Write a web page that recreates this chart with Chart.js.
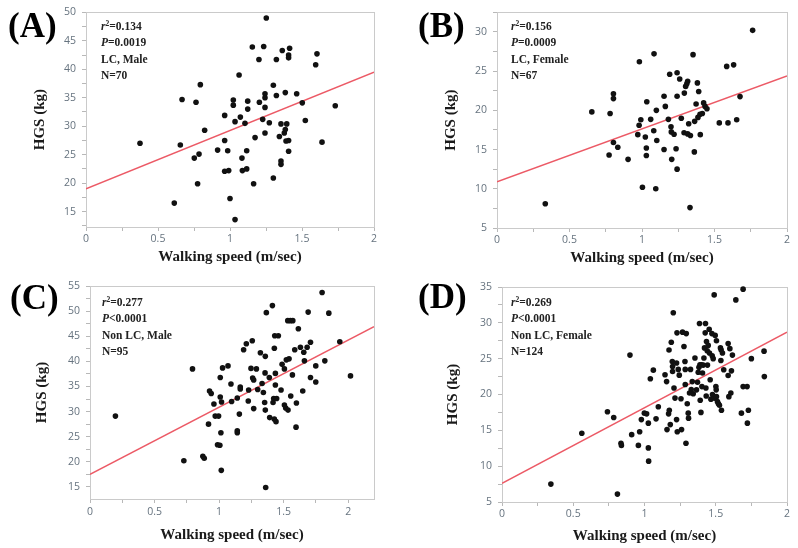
<!DOCTYPE html>
<html>
<head>
<meta charset="utf-8">
<script src="https://cdn.jsdelivr.net/npm/chart.js@4.4.1/dist/chart.umd.min.js"></script>
<style>
    body { margin: 0; background: #fff; }
    #wrap { position: relative; width: 798px; height: 548px; overflow: hidden; }
    .panel { position: absolute; }
    .lbl { position: absolute; font: bold 35px "Liberation Serif", serif; color: #000; line-height: 35px; white-space: nowrap; }
    .note { position: absolute; font: bold 11.5px "Liberation Serif", serif; line-height: 16.3px; color: #222; white-space: nowrap; }
    .note sup { font-size: 7.5px; line-height: 0; vertical-align: 4px; }
</style>
</head>
<body>
<div id="wrap">
    <div class="panel" style="left:0;top:0;width:390px;height:270px"><canvas id="chartA"></canvas></div>
    <div class="panel" style="left:400px;top:0;width:398px;height:270px"><canvas id="chartB"></canvas></div>
    <div class="panel" style="left:0;top:270px;width:390px;height:278px"><canvas id="chartC"></canvas></div>
    <div class="panel" style="left:400px;top:270px;width:398px;height:278px"><canvas id="chartD"></canvas></div>

    <div class="lbl" style="left:8px;top:8px">(A)</div>
    <div class="lbl" style="left:418px;top:8px">(B)</div>
    <div class="lbl" style="left:10px;top:280px">(C)</div>
    <div class="lbl" style="left:418px;top:279px">(D)</div>

    <div class="note" style="left:101px;top:18px"><i>r</i><sup>2</sup>=0.134<br><i>P</i>=0.0019<br>LC, Male<br>N=70</div>
    <div class="note" style="left:511px;top:18px"><i>r</i><sup>2</sup>=0.156<br><i>P</i>=0.0009<br>LC, Female<br>N=67</div>
    <div class="note" style="left:102px;top:294px"><i>r</i><sup>2</sup>=0.277<br><i>P</i>&lt;0.0001<br>Non LC, Male<br>N=95</div>
    <div class="note" style="left:511px;top:294px"><i>r</i><sup>2</sup>=0.269<br><i>P</i>&lt;0.0001<br>Non LC, Female<br>N=124</div>
</div>
<script>
// (A) LC, Male
const speedA = [0.375, 0.613, 0.655, 0.667, 0.764, 0.752, 0.785, 0.775, 0.794, 0.824, 0.914, 0.963, 0.963, 0.963, 0.991, 0.984, 1.0, 1.023, 1.023, 1.035, 1.035, 1.063, 1.072, 1.083, 1.086, 1.104, 1.116, 1.116, 1.123, 1.123, 1.155, 1.164, 1.174, 1.201, 1.204, 1.227, 1.234, 1.243, 1.243, 1.243, 1.243, 1.252, 1.273, 1.301, 1.301, 1.322, 1.322, 1.343, 1.354, 1.354, 1.354, 1.363, 1.377, 1.384, 1.384, 1.389, 1.394, 1.407, 1.407, 1.407, 1.407, 1.414, 1.463, 1.502, 1.523, 1.595, 1.604, 1.639, 1.731];
const hgsA = [27.0, 16.5, 26.7, 34.7, 34.2, 24.4, 25.1, 19.9, 37.3, 29.3, 25.8, 31.9, 27.5, 22.1, 22.2, 25.7, 17.3, 34.6, 33.7, 13.6, 30.8, 39.0, 31.6, 24.4, 22.2, 30.5, 25.7, 22.5, 34.4, 33.0, 43.9, 19.9, 28.0, 41.7, 34.2, 31.2, 44.0, 35.7, 35.0, 33.3, 28.8, 49.0, 30.6, 37.2, 20.9, 41.7, 35.4, 28.2, 30.4, 23.9, 23.3, 43.3, 28.8, 35.9, 29.4, 27.4, 30.4, 42.5, 42.0, 27.5, 25.6, 43.7, 35.7, 34.1, 31.0, 40.8, 42.7, 27.2, 33.6];
const fitSpeedA = [0, 2];
const fitHgsA = [19.0, 39.5];

// (B) LC, Female
const speedB = [0.333, 0.654, 0.780, 0.803, 0.803, 0.773, 0.803, 0.833, 0.904, 0.982, 0.980, 0.992, 0.971, 1.003, 1.023, 1.030, 1.030, 1.033, 1.083, 1.060, 1.081, 1.095, 1.099, 1.102, 1.152, 1.161, 1.152, 1.191, 1.182, 1.200, 1.202, 1.221, 1.205, 1.242, 1.260, 1.242, 1.235, 1.242, 1.271, 1.292, 1.301, 1.309, 1.315, 1.290, 1.315, 1.322, 1.334, 1.331, 1.352, 1.363, 1.361, 1.382, 1.391, 1.373, 1.386, 1.402, 1.400, 1.416, 1.425, 1.435, 1.448, 1.533, 1.593, 1.584, 1.632, 1.653, 1.676, 1.763];
const hgsB = [8.1, 19.8, 19.6, 22.1, 21.5, 14.3, 15.9, 15.3, 13.75, 26.2, 18.1, 18.8, 16.9, 10.2, 16.6, 15.2, 14.25, 21.1, 27.2, 18.85, 17.4, 10.0, 20.0, 16.15, 21.8, 20.5, 15.0, 24.6, 18.85, 17.9, 17.25, 16.95, 13.75, 24.8, 24.0, 21.8, 15.1, 12.5, 19.0, 22.2, 23.05, 23.4, 23.7, 17.15, 17.0, 18.3, 16.8, 7.6, 27.1, 18.6, 14.7, 23.5, 22.4, 20.8, 19.1, 16.9, 19.5, 19.6, 20.95, 20.5, 20.2, 18.4, 18.4, 25.6, 25.8, 18.8, 21.75, 30.2];
const fitSpeedB = [0, 2];
const fitHgsB = [10.9, 24.4];

// (C) Non LC, Male
const speedC = [0.197, 0.727, 0.794, 0.874, 0.885, 0.918, 0.926, 0.939, 0.96, 0.97, 0.996, 0.988, 1.006, 1.009, 1.009, 1.019, 1.014, 1.017, 1.027, 1.069, 1.092, 1.097, 1.141, 1.141, 1.141, 1.157, 1.164, 1.164, 1.19, 1.211, 1.226, 1.229, 1.247, 1.257, 1.26, 1.268, 1.268, 1.289, 1.299, 1.32, 1.333, 1.343, 1.353, 1.356, 1.358, 1.358, 1.361, 1.366, 1.389, 1.392, 1.413, 1.418, 1.423, 1.428, 1.436, 1.436, 1.428, 1.441, 1.431, 1.459, 1.446, 1.48, 1.488, 1.506, 1.506, 1.516, 1.521, 1.532, 1.534, 1.542, 1.552, 1.555, 1.571, 1.568, 1.586, 1.596, 1.599, 1.614, 1.63, 1.648, 1.656, 1.661, 1.682, 1.69, 1.708, 1.708, 1.749, 1.749, 1.798, 1.819, 1.85, 1.935, 2.018];
const hgsC = [29.1, 20.2, 38.5, 21.1, 20.7, 27.5, 34.1, 33.6, 31.5, 29.1, 29.1, 23.4, 23.3, 36.8, 32.9, 31.9, 25.8, 18.3, 38.7, 39.1, 35.5, 32.0, 32.7, 26.2, 25.8, 29.5, 34.9, 34.5, 42.3, 43.5, 32.1, 34.3, 38.6, 44.1, 36.7, 36.3, 30.6, 38.5, 34.4, 41.7, 35.6, 33.8, 31.8, 37.7, 41.0, 30.3, 14.9, 49.7, 36.8, 28.8, 51.1, 31.8, 32.6, 42.6, 37.6, 35.3, 28.5, 28.0, 45.1, 45.1, 32.6, 34.3, 39.4, 38.5, 31.3, 30.7, 40.3, 48.1, 30.3, 40.5, 48.1, 33.1, 48.1, 37.3, 42.3, 26.9, 31.7, 46.5, 42.8, 34.1, 41.8, 40.1, 42.8, 49.8, 43.8, 36.8, 35.9, 39.1, 53.7, 40.1, 49.6, 43.9, 37.1];
const fitSpeedC = [0, 2.2];
const fitHgsC = [17.5, 46.9];

// (D) Non LC, Female
const speedD = [0.343, 0.56, 0.74, 0.784, 0.81, 0.835, 0.838, 0.898, 0.91, 0.957, 0.966, 0.978, 0.999, 1.015, 1.027, 1.027, 1.029, 1.041, 1.062, 1.081, 1.097, 1.144, 1.155, 1.158, 1.172, 1.169, 1.174, 1.181, 1.188, 1.195, 1.197, 1.197, 1.202, 1.207, 1.214, 1.225, 1.225, 1.228, 1.23, 1.237, 1.244, 1.256, 1.26, 1.267, 1.277, 1.284, 1.286, 1.286, 1.291, 1.293, 1.3, 1.307, 1.309, 1.316, 1.323, 1.328, 1.335, 1.342, 1.354, 1.365, 1.372, 1.377, 1.382, 1.386, 1.389, 1.391, 1.396, 1.4, 1.403, 1.407, 1.412, 1.417, 1.421, 1.426, 1.428, 1.431, 1.433, 1.435, 1.44, 1.442, 1.447, 1.454, 1.456, 1.461, 1.466, 1.473, 1.475, 1.477, 1.482, 1.489, 1.491, 1.496, 1.501, 1.503, 1.505, 1.505, 1.512, 1.519, 1.526, 1.533, 1.536, 1.538, 1.54, 1.547, 1.556, 1.587, 1.587, 1.592, 1.599, 1.606, 1.61, 1.617, 1.641, 1.68, 1.692, 1.692, 1.72, 1.722, 1.729, 1.75, 1.839, 1.841];
const hgsD = [7.5, 14.6, 17.6, 16.8, 6.1, 13.2, 12.9, 25.5, 14.4, 12.9, 14.8, 16.5, 17.4, 17.3, 16.0, 12.55, 10.7, 22.2, 23.4, 16.6, 18.3, 22.75, 21.8, 15.1, 26.2, 17.3, 17.8, 15.8, 27.3, 24.6, 23.9, 23.2, 31.4, 20.9, 19.5, 24.4, 16.5, 28.6, 14.8, 23.5, 22.7, 19.4, 15.1, 28.7, 26.7, 24.6, 23.5, 21.4, 13.2, 28.5, 18.7, 17.4, 16.7, 20.2, 23.5, 20.7, 21.8, 20.1, 25.1, 20.65, 21.7, 23.1, 23.8, 29.9, 24.15, 19.2, 17.5, 24.15, 21.1, 23.0, 24.1, 25.1, 26.5, 28.6, 29.9, 20.9, 19.8, 27.4, 26.1, 24.1, 26.85, 29.1, 25.8, 22.05, 19.35, 28.5, 25.4, 20.0, 25.0, 33.9, 19.5, 28.25, 21.1, 20.65, 27.5, 19.7, 19.0, 18.7, 18.5, 26.5, 24.75, 26.2, 17.8, 25.8, 23.45, 27.1, 22.65, 19.7, 26.4, 20.2, 23.3, 25.5, 33.2, 17.4, 21.1, 34.7, 21.1, 16.0, 17.8, 25.0, 26.05, 22.5];
const fitSpeedD = [0, 2];
const fitHgsD = [7.6, 28.7];

const xTitle = 'Walking speed (m/sec)';
const yTitle = 'HGS (kg)';

// 플롯 영역 테두리
const framePlugin = {
    id: 'frame',
    beforeDatasetsDraw(chart) {
        const a = chart.chartArea;
        const ctx = chart.ctx;
        ctx.save();
        ctx.strokeStyle = '#cacaca';
        ctx.lineWidth = 1;
        ctx.strokeRect(Math.round(a.left) + 0.5, Math.round(a.top) + 0.5, Math.round(a.width), Math.round(a.height));
        ctx.restore();
    }
};

function toPoints(xs, ys) {
    return xs.map((x, i) => ({ x: x, y: ys[i] })).filter(p => p.y !== undefined);
}

// 주 눈금에만 라벨 표시
function majorOnly(every) {
    return v => (Math.abs(v / every - Math.round(v / every)) < 1e-6 ? String(v) : '');
}

function makeChart(id, xs, ys, fx, fy, o) {
    const tickFont = { family: '"Open Sans", "Liberation Sans", sans-serif', size: 10.5 };
    const titleFont = { family: '"Liberation Serif", serif', size: 15, weight: 'bold' };
    return new Chart(document.getElementById(id), {
        type: 'scatter',
        data: {
            datasets: [{
                data: toPoints(xs, ys),
                backgroundColor: '#111',
                borderWidth: 0,
                pointRadius: 2.8,
                clip: false
            }, {
                type: 'line',
                data: toPoints(fx, fy),
                borderColor: '#ec5a66',
                borderWidth: 1.5,
                pointRadius: 0,
                fill: false
            }]
        },
        options: {
            responsive: true,
            maintainAspectRatio: false,
            animation: false,
            devicePixelRatio: 1,
            layout: { padding: o.pad },
            plugins: { legend: { display: false }, tooltip: { enabled: false } },
            scales: {
                x: {
                    type: 'linear',
                    min: 0,
                    max: o.xMax,
                    afterFit: s => { s.height = o.xH; },
                    grid: { display: true, drawOnChartArea: false, drawTicks: true, tickLength: 4, color: '#b8b8b8' },
                    border: { display: true, color: '#cacaca' },
                    ticks: {
                        stepSize: 0.25,
                        includeBounds: false,
                        autoSkip: false,
                        maxRotation: 0,
                        padding: o.xTickPad,
                        color: '#66737f',
                        font: tickFont,
                        callback: majorOnly(0.5)
                    },
                    title: { display: true, text: xTitle, color: '#1a1a1a', font: titleFont, padding: { top: 0, bottom: o.xTitlePad } }
                },
                y: {
                    min: o.yMin,
                    max: o.yMax,
                    afterFit: s => { s.width = o.yW; },
                    grid: { display: true, drawOnChartArea: false, drawTicks: true, tickLength: 4, color: '#b8b8b8' },
                    border: { display: true, color: '#cacaca' },
                    ticks: {
                        stepSize: 2.5,
                        includeBounds: false,
                        autoSkip: false,
                        padding: 6,
                        color: '#66737f',
                        font: tickFont,
                        callback: majorOnly(5)
                    },
                    title: { display: true, text: yTitle, color: '#1a1a1a', font: titleFont, padding: { top: o.yTitlePad, bottom: 0 } }
                }
            }
        },
        plugins: [framePlugin]
    });
}

document.addEventListener('DOMContentLoaded', function() {
    makeChart('chartA', speedA, hgsA, fitSpeedA, fitHgsA, {
        xMax: 2, yMin: 12.3, yMax: 50, yW: 86, xH: 43, xTickPad: 2, xTitlePad: 4, yTitlePad: 31,
        pad: { left: 0, top: 10, right: 16, bottom: 0 }
    });
    makeChart('chartB', speedB, hgsB, fitSpeedB, fitHgsB, {
        xMax: 2, yMin: 5, yMax: 32.5, yW: 97, xH: 42, xTickPad: 2, xTitlePad: 3, yTitlePad: 42,
        pad: { left: 0, top: 10, right: 11, bottom: 0 }
    });
    makeChart('chartC', speedC, hgsC, fitSpeedC, fitHgsC, {
        xMax: 2.2, yMin: 12.6, yMax: 55, yW: 90, xH: 49, xTickPad: 3, xTitlePad: 4, yTitlePad: 33,
        pad: { left: 0, top: 16, right: 16, bottom: 0 }
    });
    makeChart('chartD', speedD, hgsD, fitSpeedD, fitHgsD, {
        xMax: 2, yMin: 5, yMax: 35, yW: 102, xH: 46, xTickPad: 2, xTitlePad: 3, yTitlePad: 44,
        pad: { left: 0, top: 17, right: 11, bottom: 0 }
    });
});
</script>
</body>
</html>
